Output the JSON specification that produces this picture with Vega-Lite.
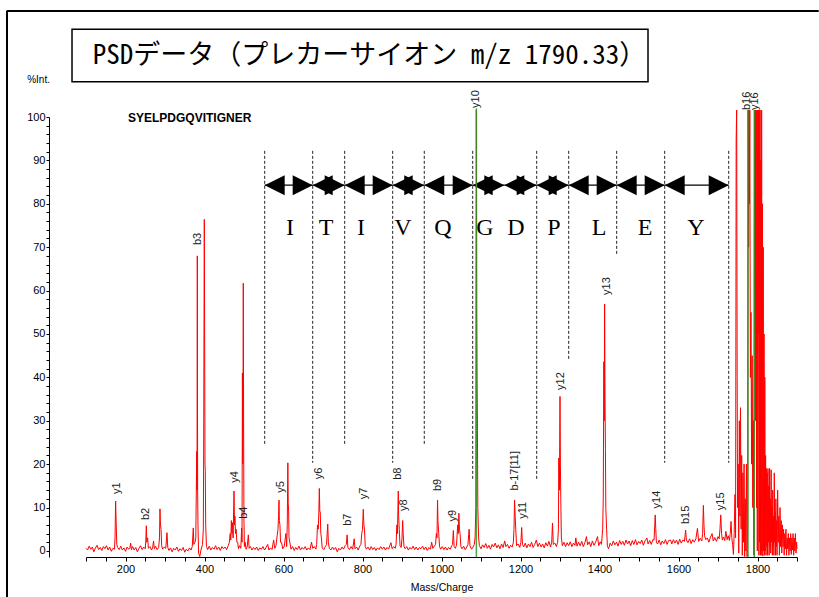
{
"$schema":"https://vega.github.io/schema/vega-lite/v6.json",
"width":711,"height":440,
"autosize":{"type":"none"},
"padding":{"left":86,"top":117,"right":22,"bottom":40},
"background":"white",
"config":{"view":{"stroke":null},"font":"Liberation Sans"},
"resolve":{"axis":{"x":"independent","y":"independent"}},
"layer":[
{"data":{"values":[{}]},"mark":{"type":"rule","stroke":"black","strokeWidth":2,"clip":false},
 "encoding":{"x":{"datum":-100,"axis":null},"y":{"datum":124.43,"axis":null},"y2":{"datum":-10.6}}},
{"data":{"values":[{}]},"mark":{"type":"rule","stroke":"black","strokeWidth":2,"clip":false},
 "encoding":{"x":{"datum":-101,"axis":null},"x2":{"datum":1955},"y":{"datum":124.43,"axis":null}}},
{"data":{"values":[{}]},"mark":{"type":"rect","fill":"white","stroke":"black","strokeWidth":1.5,"clip":false},
 "encoding":{"x":{"datum":64.6,"axis":null},"x2":{"datum":1522.8},"y":{"datum":120.21,"axis":null},"y2":{"datum":108.14}}},
{"data":{"values":[{"t":"PSDデータ（プレカーサイオン m/z 1790.33）"}]},"mark":{"type":"text","font":"Noto Sans Mono CJK JP, Noto Sans CJK JP","fontSize":27,"align":"center","baseline":"middle","color":"black","clip":false},
 "encoding":{"text":{"field":"t"},"x":{"datum":818,"axis":null},"y":{"datum":114.17,"axis":null}}},
{"data":{"values":[{"t":"SYELPDGQVITIGNER"}]},"mark":{"type":"text","font":"Liberation Sans","fontWeight":"bold","fontSize":12,"align":"left","baseline":"middle","color":"black"},
 "encoding":{"text":{"field":"t"},"x":{"datum":206.3,"axis":null},"y":{"datum":99.8,"axis":null}}},
{"data":{"values":[
 {"mz":552.4,"hi":92.2,"lo":24.3},{"mz":673.9,"hi":92.2,"lo":20.3},{"mz":754.9,"hi":92.2,"lo":24.3},{"mz":876.4,"hi":92.2,"lo":20.3},
 {"mz":956.4,"hi":92.2,"lo":24.3},{"mz":1079,"hi":92.2,"lo":16.4},{"mz":1241,"hi":92.2,"lo":16.4},{"mz":1322,"hi":92.2,"lo":44.2},
 {"mz":1443.5,"hi":92.2,"lo":68.2},{"mz":1565,"hi":92.2,"lo":20.3},{"mz":1727.1,"hi":92.2,"lo":20.3}]},
 "mark":{"type":"rule","color":"#222","strokeWidth":1,"strokeDash":[3,2]},
 "encoding":{"x":{"field":"mz","type":"quantitative","axis":null},"y":{"field":"hi","type":"quantitative","axis":null},"y2":{"field":"lo"}}},
{"data":{"name":"seg","values":[
 {"aa":"I","from":552.4,"to":673.9,"at":616.4},{"aa":"T","from":673.9,"to":754.9,"at":707.6},{"aa":"I","from":754.9,"to":876.4,"at":796.2},
 {"aa":"V","from":876.4,"to":956.4,"at":902.5},{"aa":"Q","from":956.4,"to":1079,"at":1003.8},{"aa":"G","from":1079,"to":1159,"at":1110.1},
 {"aa":"D","from":1159,"to":1241,"at":1188.6},{"aa":"P","from":1241,"to":1322,"at":1284.8},{"aa":"L","from":1322,"to":1443.5,"at":1398.7},
 {"aa":"E","from":1443.5,"to":1565,"at":1515.2},{"aa":"Y","from":1565,"to":1727.1,"at":1644.3}]},
 "layer":[
  {"mark":{"type":"rule","color":"black","strokeWidth":1.2},"encoding":{"x":{"field":"from","type":"quantitative","axis":null},"x2":{"field":"to"},"y":{"datum":84.3,"axis":null}}},
  {"mark":{"type":"point","shape":"M1,-1L-1,0L1,1Z","filled":true,"size":400,"color":"black","opacity":1,"xOffset":10},"encoding":{"x":{"field":"from","type":"quantitative","axis":null},"y":{"datum":84.3,"axis":null}}},
  {"mark":{"type":"point","shape":"M-1,-1L1,0L-1,1Z","filled":true,"size":400,"color":"black","opacity":1,"xOffset":-10},"encoding":{"x":{"field":"to","type":"quantitative","axis":null},"y":{"datum":84.3,"axis":null}}},
  {"mark":{"type":"text","font":"Liberation Serif","fontSize":24,"align":"center","baseline":"alphabetic","color":"black"},"encoding":{"text":{"field":"aa"},"x":{"field":"at","type":"quantitative","axis":null},"y":{"datum":72.8,"axis":null}}}
 ]},
{"data":{"values":[
{"m":100,"i":0.6},{"m":104,"i":0.2},{"m":108,"i":1.1},{"m":112,"i":0.4},{"m":116,"i":0.9},{"m":120,"i":-0.2},{"m":124,"i":0.7},{"m":128,"i":1.3},{"m":132,"i":0.3},{"m":136,"i":0.8},{"m":140,"i":0.1},{"m":144,"i":1.0},{"m":148,"i":0.5},{"m":152,"i":1.2},{"m":156,"i":0.2},{"m":160,"i":0.9},{"m":164,"i":-0.1},{"m":168,"i":0.6},{"m":172,"i":0.4},
{"m":173.5,"i":3},{"m":175,"i":11.5},{"m":176.5,"i":6},{"m":178,"i":1.5},{"m":180,"i":0.8},{"m":184,"i":0.3},{"m":188,"i":1.1},{"m":192,"i":0.2},{"m":196,"i":0.7},{"m":200,"i":-0.1},{"m":204,"i":0.9},{"m":208,"i":0.4},{"m":211,"i":0.6},{"m":213,"i":1.8},{"m":215,"i":0.3},{"m":218,"i":1.0},{"m":222,"i":0.2},{"m":226,"i":0.8},{"m":230,"i":-0.2},{"m":234,"i":0.6},{"m":238,"i":1.2},{"m":242,"i":0.3},{"m":246,"i":0.9},{"m":250,"i":0.5},
{"m":251.5,"i":2.5},{"m":252.7,"i":5.8},{"m":254,"i":2},{"m":256,"i":3},{"m":258,"i":0.6},{"m":262,"i":1.0},{"m":266,"i":0.2},{"m":269,"i":0.9},{"m":271,"i":2.3},{"m":273,"i":0.5},{"m":276,"i":1.1},{"m":280,"i":0.3},{"m":284,"i":0.8},{"m":286,"i":3},{"m":287.3,"i":9.7},{"m":288.5,"i":6},{"m":290,"i":5},{"m":291.5,"i":1.2},{"m":294,"i":0.4},{"m":298,"i":0.9},{"m":302,"i":0.6},{"m":305,"i":4.2},{"m":307,"i":0.8},{"m":310,"i":0.1},{"m":314,"i":0.7},{"m":318,"i":-0.2},{"m":322,"i":0.6},{"m":326,"i":0.2},{"m":330,"i":0.9},{"m":334,"i":-0.1},{"m":338,"i":0.5},{"m":342,"i":0.1},{"m":346,"i":0.8},{"m":350,"i":-0.3},{"m":354,"i":0.4},{"m":358,"i":0},{"m":362,"i":0.7},{"m":366,"i":0.2},{"m":369,"i":1},
{"m":371.6,"i":5.3},{"m":373,"i":1.5},{"m":376,"i":2},{"m":378,"i":3},{"m":380.3,"i":22.9},{"m":381.1,"i":14},{"m":381.8,"i":68},{"m":382.6,"i":14},{"m":383.5,"i":6},{"m":385,"i":-0.5},{"m":388,"i":-1.3},{"m":391,"i":0.2},{"m":395,"i":1.5},{"m":397,"i":5},{"m":398,"i":26},{"m":399.5,"i":76.4},{"m":400.5,"i":45},{"m":401.3,"i":20},{"m":402,"i":18.5},{"m":403,"i":6},{"m":405,"i":1},
{"m":408,"i":0.3},{"m":412,"i":1.1},{"m":416,"i":0.2},{"m":420,"i":0.8},{"m":424,"i":0.4},{"m":428,"i":1.2},{"m":432,"i":0.3},{"m":436,"i":0.9},{"m":440,"i":0.1},{"m":444,"i":1.0},{"m":448,"i":0.5},{"m":452,"i":0.9},{"m":456,"i":0.3},{"m":460,"i":1.2},{"m":463,"i":2},{"m":465,"i":4},{"m":466.5,"i":2.5},{"m":468,"i":7},{"m":469.5,"i":4},{"m":471,"i":6.5},{"m":472.5,"i":3},{"m":474.7,"i":13.8},{"m":476,"i":6},{"m":477,"i":8},{"m":478.5,"i":4},{"m":480,"i":5},{"m":482,"i":2},{"m":484,"i":2},{"m":486,"i":0.5},{"m":489,"i":1.2},{"m":492,"i":0.6},
{"m":494,"i":5.3},{"m":495,"i":2},{"m":496,"i":41},{"m":496.8,"i":20},{"m":497.5,"i":30},{"m":498.2,"i":61.7},{"m":499,"i":30},{"m":499.8,"i":8},{"m":501,"i":1},{"m":503,"i":2},{"m":505,"i":0.4},{"m":508,"i":0.9},{"m":511,"i":3.7},{"m":513,"i":0.6},{"m":516,"i":1.0},{"m":520,"i":0.2},{"m":524,"i":0.8},{"m":528,"i":0.3},{"m":532,"i":0.9},{"m":536,"i":0.1},{"m":540,"i":0.7},{"m":544,"i":0.4},{"m":548,"i":1.0},{"m":552,"i":0.2},{"m":556,"i":0.8},{"m":560,"i":1.5},{"m":563,"i":0.2},{"m":567,"i":0.7},{"m":571,"i":0.3},{"m":575,"i":2.5},{"m":578,"i":0.6},{"m":581,"i":1.2},
{"m":584,"i":3.5},{"m":586,"i":5},{"m":587.5,"i":8},{"m":588.6,"i":11.7},{"m":589.5,"i":7},{"m":591,"i":6},{"m":592.5,"i":2},{"m":595,"i":2},{"m":598,"i":0.5},{"m":602,"i":1.1},{"m":606,"i":4},{"m":608,"i":1},{"m":609.5,"i":6},{"m":611,"i":20.3},{"m":612,"i":11},{"m":613,"i":9},{"m":614,"i":3},{"m":616,"i":2},{"m":619,"i":0.4},{"m":623,"i":1.0},{"m":627,"i":0.1},{"m":631,"i":0.8},{"m":635,"i":0.3},{"m":639,"i":1.1},{"m":643,"i":0.2},{"m":647,"i":0.8},{"m":651,"i":0.4},{"m":655,"i":1.0},{"m":659,"i":0.2},{"m":663,"i":0.7},{"m":667,"i":0.3},{"m":671,"i":2},{"m":674,"i":0.6},{"m":678,"i":1.0},{"m":682,"i":0.4},
{"m":684,"i":1.5},{"m":686,"i":6},{"m":688,"i":5},{"m":689.5,"i":9},{"m":690.7,"i":14.4},{"m":692,"i":9},{"m":693,"i":9},{"m":694.5,"i":4},{"m":696,"i":3},{"m":698,"i":0.7},{"m":702,"i":0.3},{"m":706,"i":1.0},{"m":709,"i":1.5},{"m":710.5,"i":4},{"m":712,"i":6.2},{"m":713.5,"i":2},{"m":716,"i":0.6},{"m":720,"i":0.2},{"m":724,"i":0.9},{"m":728,"i":0.3},{"m":732,"i":0.8},{"m":736,"i":-0.2},{"m":740,"i":0.6},{"m":744,"i":0.2},{"m":748,"i":0.9},{"m":752,"i":0.4},{"m":756,"i":1.2},{"m":759,"i":1.5},{"m":761,"i":3.7},{"m":763,"i":0.8},{"m":767,"i":0.3},{"m":771,"i":1.0},{"m":775,"i":0.4},{"m":779,"i":2.8},{"m":781,"i":0.5},{"m":785,"i":0.9},{"m":789,"i":0.2},{"m":793,"i":1.1},{"m":796,"i":1.5},
{"m":798,"i":4},{"m":800,"i":5},{"m":802,"i":9.6},{"m":803.5,"i":6},{"m":805,"i":5},{"m":807,"i":1},{"m":810,"i":0.4},{"m":814,"i":0.9},{"m":818,"i":0.2},{"m":822,"i":1.0},{"m":826,"i":0.3},{"m":830,"i":0.8},{"m":834,"i":0.1},{"m":838,"i":0.7},{"m":842,"i":0.3},{"m":846,"i":1.0},{"m":850,"i":0.4},{"m":854,"i":0.9},{"m":858,"i":0.2},{"m":862,"i":0.8},{"m":866,"i":0.4},{"m":869,"i":1.2},{"m":872,"i":1.9},{"m":875,"i":0.5},{"m":879,"i":1.0},{"m":883,"i":0.6},
{"m":885,"i":1.5},{"m":887,"i":6},{"m":888.5,"i":4},{"m":889.5,"i":9},{"m":890.6,"i":13.8},{"m":891.5,"i":8},{"m":893,"i":5},{"m":895,"i":1.2},{"m":898,"i":0.8},{"m":900,"i":3},{"m":901.7,"i":7},{"m":903,"i":4},{"m":905,"i":1},{"m":908,"i":0.5},{"m":912,"i":1.0},{"m":916,"i":0.2},{"m":920,"i":0.8},{"m":924,"i":0.4},{"m":928,"i":1.1},{"m":932,"i":0.3},{"m":936,"i":0.9},{"m":940,"i":0.2},{"m":944,"i":0.8},{"m":948,"i":0.5},{"m":952,"i":1.1},{"m":956,"i":0.3},{"m":960,"i":0.9},{"m":964,"i":0.1},{"m":968,"i":0.8},{"m":972,"i":0.4},{"m":975,"i":2},{"m":978,"i":0.6},{"m":982,"i":1.1},
{"m":985,"i":1.5},{"m":987,"i":4},{"m":988.5,"i":3},{"m":990,"i":11.7},{"m":991,"i":7},{"m":993,"i":4},{"m":995,"i":1},{"m":998,"i":0.4},{"m":1002,"i":1.0},{"m":1006,"i":0.3},{"m":1010,"i":0.9},{"m":1014,"i":0.2},{"m":1018,"i":0.8},{"m":1022,"i":0.4},{"m":1026,"i":1.2},{"m":1028,"i":1.5},{"m":1030,"i":4.7},{"m":1032,"i":1},{"m":1035,"i":0.6},{"m":1038,"i":1.3},{"m":1041,"i":6},{"m":1042.5,"i":4},{"m":1044,"i":8.7},{"m":1045.5,"i":5},{"m":1047,"i":4},{"m":1049,"i":1},{"m":1052,"i":0.5},{"m":1056,"i":1.1},{"m":1060,"i":0.3},{"m":1064,"i":0.9},{"m":1067,"i":1.5},{"m":1070,"i":5},{"m":1072,"i":1.2},{"m":1076,"i":0.4},{"m":1080,"i":0.9},{"m":1083,"i":1.5},{"m":1085,"i":3},{"m":1087,"i":10},{"m":1088.3,"i":101.6},{"m":1089.2,"i":56},{"m":1090,"i":40},{"m":1091,"i":27.7},{"m":1092,"i":10},{"m":1094,"i":3},
{"m":1096,"i":1.2},{"m":1100,"i":0.5},{"m":1104,"i":1.4},{"m":1108,"i":0.8},{"m":1112,"i":1.7},{"m":1116,"i":0.6},{"m":1120,"i":1.3},{"m":1124,"i":0.4},{"m":1128,"i":1.5},{"m":1132,"i":0.9},{"m":1136,"i":1.8},{"m":1140,"i":0.7},{"m":1144,"i":1.4},{"m":1148,"i":0.5},{"m":1152,"i":1.6},{"m":1156,"i":0.8},{"m":1160,"i":2.3},{"m":1163,"i":1.0},{"m":1167,"i":1.5},{"m":1171,"i":0.6},{"m":1175,"i":1.3},{"m":1179,"i":0.9},{"m":1182,"i":2},{"m":1183.5,"i":5},{"m":1185,"i":11.7},{"m":1186.5,"i":8},{"m":1188,"i":5},{"m":1190,"i":1.2},{"m":1194,"i":1.6},{"m":1198,"i":0.8},{"m":1201,"i":2},{"m":1203,"i":5.4},{"m":1205,"i":1.5},{"m":1208,"i":0.9},{"m":1212,"i":1.8},{"m":1216,"i":0.7},{"m":1220,"i":1.6},{"m":1224,"i":1.0},{"m":1228,"i":2.0},{"m":1232,"i":0.8},{"m":1236,"i":1.5},{"m":1240,"i":2.5},{"m":1244,"i":1.0},{"m":1248,"i":1.8},{"m":1252,"i":0.9},{"m":1256,"i":1.6},{"m":1260,"i":0.7},{"m":1264,"i":1.9},{"m":1268,"i":1.1},{"m":1272,"i":2.2},{"m":1276,"i":0.9},{"m":1279,"i":2},{"m":1281,"i":6.4},{"m":1283,"i":1.5},{"m":1287,"i":1.8},{"m":1291,"i":1.0},{"m":1294,"i":2},{"m":1296,"i":5},{"m":1297,"i":21.4},{"m":1298.5,"i":14},{"m":1300,"i":35.6},{"m":1301,"i":20},{"m":1302,"i":12},{"m":1303.5,"i":3},
{"m":1306,"i":1.2},{"m":1310,"i":2.0},{"m":1314,"i":1.0},{"m":1318,"i":1.9},{"m":1322,"i":1.2},{"m":1326,"i":2.1},{"m":1330,"i":1.0},{"m":1334,"i":1.8},{"m":1338,"i":1.3},{"m":1340,"i":3},{"m":1343,"i":1.1},{"m":1347,"i":2.0},{"m":1351,"i":1.2},{"m":1355,"i":2.2},{"m":1359,"i":1.0},{"m":1363,"i":1.9},{"m":1367,"i":3.3},{"m":1370,"i":1.4},{"m":1374,"i":2.1},{"m":1378,"i":1.0},{"m":1382,"i":2.3},{"m":1386,"i":1.3},{"m":1390,"i":2.0},{"m":1395,"i":3.3},{"m":1398,"i":1.2},{"m":1402,"i":2.1},{"m":1405,"i":1.5},{"m":1408,"i":5},{"m":1409.5,"i":12},{"m":1411,"i":43.6},{"m":1412,"i":30},{"m":1413,"i":56.9},{"m":1414,"i":35},{"m":1415,"i":23.3},{"m":1416,"i":10},{"m":1418,"i":5},{"m":1420,"i":1.0},{"m":1423,"i":0.5},
{"m":1427,"i":1.8},{"m":1431,"i":1.2},{"m":1435,"i":2.3},{"m":1439,"i":1.4},{"m":1443,"i":2.0},{"m":1447,"i":1.1},{"m":1451,"i":2.4},{"m":1455,"i":1.5},{"m":1459,"i":2.2},{"m":1463,"i":1.3},{"m":1467,"i":2.5},{"m":1471,"i":1.6},{"m":1475,"i":2.3},{"m":1479,"i":1.2},{"m":1483,"i":2.4},{"m":1487,"i":1.5},{"m":1491,"i":2.6},{"m":1495,"i":1.4},{"m":1499,"i":2.2},{"m":1503,"i":1.7},{"m":1507,"i":2.5},{"m":1511,"i":1.3},{"m":1515,"i":2.3},{"m":1520,"i":3},{"m":1523,"i":1.6},{"m":1527,"i":2.4},{"m":1531,"i":1.5},{"m":1535,"i":2.6},{"m":1538,"i":2.5},{"m":1540,"i":6},{"m":1541,"i":8.3},{"m":1542.5,"i":5},{"m":1544,"i":2},{"m":1547,"i":1.6},{"m":1551,"i":2.5},{"m":1555,"i":1.4},{"m":1559,"i":2.3},{"m":1563,"i":1.7},{"m":1567,"i":2.6},{"m":1571,"i":1.5},{"m":1575,"i":2.4},{"m":1580,"i":2.5},{"m":1583,"i":1.6},{"m":1587,"i":2.6},{"m":1591,"i":1.8},{"m":1595,"i":2.5},{"m":1599,"i":1.5},{"m":1603,"i":2.7},{"m":1607,"i":1.8},{"m":1611,"i":2.5},{"m":1615,"i":2.2},{"m":1618,"i":4.8},{"m":1620,"i":2.5},{"m":1624,"i":1.9},{"m":1628,"i":2.8},{"m":1632,"i":1.7},{"m":1636,"i":2.6},{"m":1640,"i":2.0},{"m":1644,"i":2.8},{"m":1648,"i":5.2},{"m":1651,"i":2.2},{"m":1655,"i":2.9},{"m":1659,"i":2.3},{"m":1661,"i":4},{"m":1663,"i":10.5},{"m":1664.5,"i":6},{"m":1666,"i":3.5},{"m":1669,"i":2.6},{"m":1673,"i":3.0},{"m":1677,"i":2.0},{"m":1681,"i":3.2},{"m":1685,"i":4},{"m":1688,"i":2.3},{"m":1692,"i":3.1},{"m":1696,"i":2.2},{"m":1700,"i":3.3},{"m":1703,"i":2.8},{"m":1705,"i":5},{"m":1707,"i":8.3},{"m":1709,"i":4},{"m":1711,"i":2.5},{"m":1714,"i":3.2},{"m":1717,"i":2.4},{"m":1720,"i":4.5},{"m":1723,"i":2.6},{"m":1726,"i":3.5},{"m":1729,"i":2.4},{"m":1731,"i":4},{"m":1733,"i":6.8},{"m":1735,"i":3},{"m":1737,"i":1.5},{"m":1739,"i":-0.8},
{"m":1741,"i":4},{"m":1743,"i":13},{"m":1744.5,"i":3},{"m":1746,"i":95},{"m":1747.3,"i":101.6},{"m":1748.5,"i":40},{"m":1749.5,"i":10},{"m":1751,"i":20},{"m":1752.5,"i":-0.5},{"m":1754,"i":30},{"m":1755.5,"i":8},{"m":1757,"i":33},{"m":1758.5,"i":5},{"m":1760,"i":22},{"m":1761.5,"i":-1},{"m":1763,"i":18},{"m":1764.5,"i":2},{"m":1766,"i":20},{"m":1767.5,"i":-1.3},{"m":1769,"i":12},{"m":1770.5,"i":0},{"m":1772,"i":20},{"m":1773.5,"i":-1.3},{"m":1775,"i":5},{"m":1776.5,"i":101.6},{"m":1777.5,"i":70},{"m":1778.5,"i":101.6},{"m":1779.5,"i":80},{"m":1780.5,"i":101.6},{"m":1782,"i":40},{"m":1783.5,"i":55},{"m":1785,"i":20},{"m":1786.5,"i":45},{"m":1788,"i":10},{"m":1789.5,"i":30},{"m":1791,"i":-1},{"m":1792.5,"i":101.6},{"m":1793.5,"i":60},{"m":1794.5,"i":101.6},{"m":1795.5,"i":30},{"m":1796.5,"i":101.6},{"m":1797.5,"i":10},{"m":1798.5,"i":101.6},{"m":1799.5,"i":0},{"m":1800.5,"i":101.6},{"m":1801.5,"i":50},{"m":1802.5,"i":101.6},{"m":1803.5,"i":-1},{"m":1804.5,"i":101.6},{"m":1805.5,"i":2},{"m":1806.5,"i":101.6},{"m":1807.5,"i":-1},{"m":1808.5,"i":90},{"m":1809.5,"i":-1},{"m":1810.5,"i":101.6},{"m":1811.5,"i":0},{"m":1812.5,"i":80},{"m":1813.5,"i":-1.2},{"m":1814.5,"i":70},{"m":1815.5,"i":0},{"m":1816.5,"i":50},{"m":1817.5,"i":-1},{"m":1818.5,"i":40},{"m":1819.5,"i":0},{"m":1820.5,"i":22},{"m":1821.5,"i":-1},{"m":1822.5,"i":19},{"m":1823.5,"i":1},{"m":1824.5,"i":18},{"m":1825.5,"i":-1},{"m":1826.5,"i":19},{"m":1827.5,"i":2},{"m":1828.5,"i":15},{"m":1829.5,"i":-1},{"m":1830.5,"i":19},{"m":1831.5,"i":1},{"m":1832.5,"i":12},{"m":1833.5,"i":-0.5},{"m":1834.5,"i":18.7},{"m":1835.5,"i":2},{"m":1836.5,"i":10},{"m":1837.5,"i":-1},{"m":1838.5,"i":14},{"m":1839.5,"i":1},{"m":1840.5,"i":8},{"m":1841.5,"i":-1},{"m":1842.5,"i":18},{"m":1843.5,"i":2},{"m":1844.5,"i":9},{"m":1845.5,"i":-1},{"m":1846.5,"i":12},{"m":1847.5,"i":1},{"m":1848.5,"i":7},{"m":1849.5,"i":-1},{"m":1851,"i":14},{"m":1852.5,"i":2},{"m":1854,"i":8},{"m":1855.5,"i":-1},{"m":1857,"i":10},{"m":1858.5,"i":1},{"m":1860,"i":7},{"m":1861.5,"i":-0.5},{"m":1863,"i":6},{"m":1864.5,"i":1},{"m":1866,"i":5},{"m":1867.5,"i":-1},{"m":1869,"i":4},{"m":1870.5,"i":0.5},{"m":1872,"i":5},{"m":1873.5,"i":-1},{"m":1875,"i":3},{"m":1876.5,"i":0.5},{"m":1878,"i":4},{"m":1879.5,"i":-1},{"m":1881,"i":3},{"m":1882.5,"i":0},{"m":1884,"i":4},{"m":1885.5,"i":-0.8},{"m":1887,"i":3},{"m":1888.5,"i":0.2},{"m":1890,"i":4},{"m":1891.5,"i":-1},{"m":1893,"i":3},{"m":1894.5,"i":0},{"m":1896,"i":4},{"m":1897.5,"i":-0.5},{"m":1899,"i":2},{"m":1900,"i":0.5}
]},
 "mark":{"type":"line","color":"#ff0000","strokeWidth":1,"clip":false},
 "encoding":{
  "x":{"field":"m","type":"quantitative","scale":{"domain":[100,1900],"nice":false,"zero":false},
   "axis":{"title":"Mass/Charge","values":[100,150,200,250,300,350,400,450,500,550,600,650,700,750,800,850,900,950,1000,1050,1100,1150,1200,1250,1300,1350,1400,1450,1500,1550,1600,1650,1700,1750,1800,1850,1900],
    "format":"d","labelExpr":"datum.value % 200 === 0 ? datum.label : ''","labelFlush":false,"labelOverlap":false,"grid":false,"tickSize":4,"labelPadding":2,
    "domainColor":"black","tickColor":"black","labelColor":"black","labelFont":"Liberation Sans","labelFontSize":11,
    "titleFont":"Liberation Sans","titleFontSize":10.5,"titleFontWeight":"normal","titleColor":"black","titleY":30,"titleBaseline":"middle"}},
  "y":{"field":"i","type":"quantitative","scale":{"domain":[-1.4,100],"nice":false,"zero":false},
   "axis":{"title":"%Int.","orient":"left","values":[0,2,4,6,8,10,12,14,16,18,20,22,24,26,28,30,32,34,36,38,40,42,44,46,48,50,52,54,56,58,60,62,64,66,68,70,72,74,76,78,80,82,84,86,88,90,92,94,96,98,100],
    "labelExpr":"datum.value % 10 === 0 ? datum.label : ''","labelFlush":false,"labelOverlap":false,"grid":false,"offset":37,"tickSize":3,"labelPadding":1,
    "domainColor":"black","tickColor":"black","labelColor":"black","labelFont":"Liberation Sans","labelFontSize":11,
    "titleFont":"Liberation Sans","titleFontSize":10,"titleFontWeight":"normal","titleColor":"black","titleAngle":0,"titleAlign":"left","titleBaseline":"middle","titleX":-22.3,"titleY":-37.7}}
 }},
{"data":{"values":[{"mz":1088.3,"top":102},{"mz":1775.9,"top":101.6},{"mz":1791.9,"top":101.6}]},
 "mark":{"type":"rule","color":"#229922","strokeWidth":1.5,"opacity":0.85,"clip":false},
 "encoding":{"x":{"field":"mz","type":"quantitative","axis":null},"y":{"field":"top","type":"quantitative","axis":null},"y2":{"datum":-1.4}}},
{"data":{"values":[
 {"ion":"y1","mz":177.7,"at":13.1},{"ion":"b2","mz":251.1,"at":7.1},{"ion":"b3","mz":382.8,"at":70.5},{"ion":"y4","mz":478,"at":15.7},
 {"ion":"b4","mz":500,"at":7.4},{"ion":"y5","mz":592.9,"at":13.4},{"ion":"y6","mz":690.6,"at":16.5},{"ion":"b7","mz":764,"at":5.8},
 {"ion":"y7","mz":804.6,"at":11.9},{"ion":"b8","mz":889.1,"at":16.4},{"ion":"y8","mz":905.8,"at":9.2},{"ion":"b9","mz":990.4,"at":13.8},
 {"ion":"y9","mz":1028.3,"at":6.8},{"ion":"y10","mz":1088.6,"at":102.1},{"ion":"b-17[11]","mz":1186.1,"at":13.9},{"ion":"y11","mz":1207.1,"at":7.4},
 {"ion":"y12","mz":1302.5,"at":37.1},{"ion":"y13","mz":1418.2,"at":59},{"ion":"y14","mz":1544.8,"at":9.8},{"ion":"b15","mz":1619,"at":6.2},
 {"ion":"y15","mz":1706.8,"at":9.4},{"ion":"b16","mz":1774.6,"at":101.6},{"ion":"y16","mz":1794.9,"at":101.6}]},
 "mark":{"type":"text","angle":270,"align":"left","baseline":"middle","font":"Liberation Sans","fontSize":11,"color":"#222","clip":false},
 "encoding":{"text":{"field":"ion"},"x":{"field":"mz","type":"quantitative","axis":null},"y":{"field":"at","type":"quantitative","axis":null}}}
]
}
